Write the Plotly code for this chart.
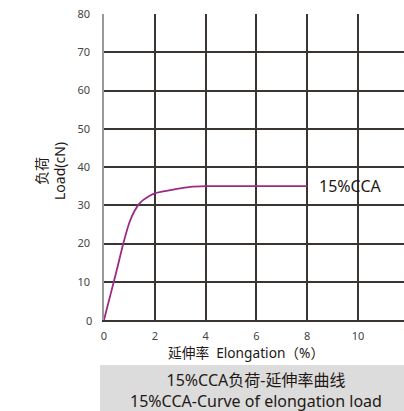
import plotly.graph_objects as go

elong = [0, 0.25, 0.5, 0.76, 1.0, 1.2, 1.4, 1.55, 1.8, 2.0, 2.4, 2.73, 3.0, 3.4, 4.0, 5.0, 6.0, 7.0, 8.0]
load = [0, 6.5, 13, 20, 25.5, 28.5, 30.5, 31.4, 32.5, 33.1, 33.7, 34.1, 34.4, 34.8, 35, 35, 35, 35, 35]
x_ticks = [0, 2, 4, 6, 8, 10]
y_ticks = [0, 10, 20, 30, 40, 50, 60, 70, 80]
series_name = "15%CCA"

W, H = 404, 411
L, R, T, B = 104, 0, 14, 91
pw, ph = W - L - R, H - T - B
x_max = pw / 25.4

def px(xp):
    return (xp - L) / pw

def py(yp):
    return (H - B - yp) / ph

font_fam = "Noto Sans, Noto Sans CJK SC, sans-serif"
dark = "#231815"
grid = "#3b3532"

fig = go.Figure()
fig.add_trace(go.Scatter(x=elong, y=load, mode="lines", line=dict(color="#9c2a86", width=1.8, shape="spline", smoothing=0.6),
                         showlegend=False, hoverinfo="skip"))

fig.update_layout(
    width=W, height=H,
    margin=dict(l=L, r=R, t=T, b=B, pad=0),
    paper_bgcolor="white", plot_bgcolor="white",
    font=dict(family=font_fam, color="#333333", size=11),
    xaxis=dict(range=[0, x_max], tickvals=x_ticks, showgrid=True, gridcolor=grid, gridwidth=1.6,
               zeroline=False, showline=True, linecolor=grid, linewidth=1.6, ticks="",
               ticklabelstandoff=5, tickfont=dict(size=11, color="#444444"), fixedrange=True),
    yaxis=dict(range=[0, 80], tickvals=y_ticks[1:], showgrid=True, gridcolor=grid, gridwidth=1.6,
               zeroline=False, showline=True, linecolor="#9a9a9a", linewidth=1.6, ticks="",
               ticklabelstandoff=10, tickfont=dict(size=11, color="#444444"), fixedrange=True),
    shapes=[
        dict(type="rect", xref="paper", yref="paper", x0=px(100), x1=px(404), y0=py(411), y1=py(365),
             fillcolor="#dcdcdc", line=dict(width=0), layer="below"),
    ],
    annotations=[
        dict(text="12", xref="paper", yref="paper", x=px(409), y=py(331), showarrow=False,
             font=dict(size=11, color="#444444"), xanchor="center", yanchor="middle"),
        dict(text="0", xref="paper", yref="paper", x=px(94), y=py(320), showarrow=False,
             font=dict(size=11, color="#444444"), xanchor="right", yanchor="middle"),
        dict(text=series_name, x=8, y=35, xref="x", yref="y", xanchor="left", yanchor="middle",
             xshift=10, showarrow=False, font=dict(size=16, color=dark)),
        dict(text="延伸率  Elongation（%）", xref="paper", yref="paper", x=px(246), y=py(352),
             showarrow=False, xanchor="center", yanchor="middle", font=dict(size=13.7, color=dark)),
        dict(text="负荷<br>Load(cN)", xref="paper", yref="paper", x=px(50), y=py(171), textangle=-90,
             showarrow=False, xanchor="center", yanchor="middle", align="center",
             font=dict(size=14, color=dark)),
        dict(text="15%CCA负荷-延伸率曲线<br>15%CCA-Curve of elongation load", xref="paper", yref="paper",
             x=px(255.5), y=py(390.5), align="center",
             showarrow=False, xanchor="center", yanchor="middle", font=dict(size=16, color=dark)),
    ],
)

fig.write_html("out.html", config={"displayModeBar": False},
               post_script="document.body.style.margin='0';document.body.style.overflow='hidden';")
